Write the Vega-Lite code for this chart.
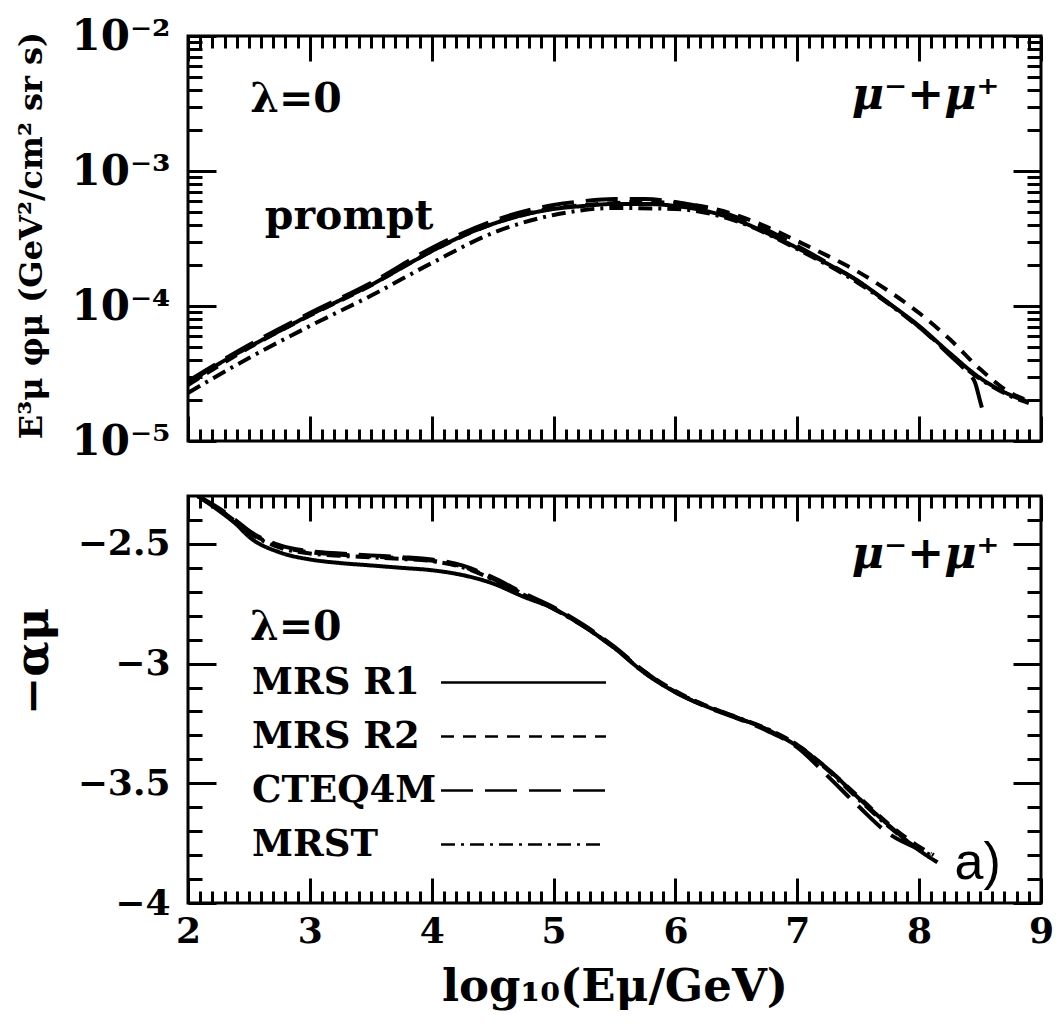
{
  "$schema": "https://vega.github.io/schema/vega-lite/v6.json",
  "padding": {"left": 8, "top": 13, "right": 5, "bottom": 5},
  "background": "white",
  "datasets": {
    "top": [
      {"s":"MRS R1","x":2.0,"y":2.69e-5},{"s":"MRS R1","x":2.25,"y":3.72e-5},{"s":"MRS R1","x":2.5,"y":4.97e-5},{"s":"MRS R1","x":2.75,"y":6.53e-5},{"s":"MRS R1","x":3.0,"y":8.58e-5},{"s":"MRS R1","x":3.25,"y":1.107e-4},{"s":"MRS R1","x":3.5,"y":1.43e-4},{"s":"MRS R1","x":3.75,"y":1.91e-4},{"s":"MRS R1","x":4.0,"y":2.55e-4},{"s":"MRS R1","x":4.25,"y":3.30e-4},{"s":"MRS R1","x":4.5,"y":4.05e-4},{"s":"MRS R1","x":4.75,"y":4.72e-4},{"s":"MRS R1","x":5.0,"y":5.23e-4},{"s":"MRS R1","x":5.25,"y":5.51e-4},{"s":"MRS R1","x":5.5,"y":5.70e-4},{"s":"MRS R1","x":5.75,"y":5.70e-4},{"s":"MRS R1","x":6.0,"y":5.51e-4},{"s":"MRS R1","x":6.25,"y":5.06e-4},{"s":"MRS R1","x":6.5,"y":4.34e-4},{"s":"MRS R1","x":6.75,"y":3.47e-4},{"s":"MRS R1","x":7.0,"y":2.69e-4},{"s":"MRS R1","x":7.25,"y":2.05e-4},{"s":"MRS R1","x":7.5,"y":1.53e-4},{"s":"MRS R1","x":7.75,"y":1.05e-4},{"s":"MRS R1","x":8.0,"y":7.11e-5},{"s":"MRS R1","x":8.25,"y":4.49e-5},{"s":"MRS R1","x":8.5,"y":2.93e-5},{"s":"MRS R1","x":8.75,"y":2.19e-5},{"s":"MRS R1","x":8.9,"y":1.95e-5},
      {"s":"MRS R2","x":2.0,"y":2.6e-5},{"s":"MRS R2","x":2.5,"y":4.9e-5},{"s":"MRS R2","x":3.0,"y":8.5e-5},{"s":"MRS R2","x":3.5,"y":1.42e-4},{"s":"MRS R2","x":4.0,"y":2.55e-4},{"s":"MRS R2","x":4.5,"y":4.05e-4},{"s":"MRS R2","x":5.0,"y":5.3e-4},{"s":"MRS R2","x":5.25,"y":5.6e-4},{"s":"MRS R2","x":5.5,"y":5.79e-4},{"s":"MRS R2","x":5.75,"y":5.89e-4},{"s":"MRS R2","x":6.0,"y":5.79e-4},{"s":"MRS R2","x":6.25,"y":5.41e-4},{"s":"MRS R2","x":6.5,"y":4.72e-4},{"s":"MRS R2","x":6.75,"y":3.85e-4},{"s":"MRS R2","x":7.0,"y":3.03e-4},{"s":"MRS R2","x":7.25,"y":2.35e-4},{"s":"MRS R2","x":7.5,"y":1.79e-4},{"s":"MRS R2","x":7.75,"y":1.29e-4},{"s":"MRS R2","x":8.0,"y":8.87e-5},{"s":"MRS R2","x":8.25,"y":5.69e-5},{"s":"MRS R2","x":8.5,"y":3.41e-5},{"s":"MRS R2","x":8.75,"y":2.27e-5},{"s":"MRS R2","x":8.9,"y":1.98e-5},
      {"s":"CTEQ4M","x":2.0,"y":2.78e-5},{"s":"CTEQ4M","x":2.5,"y":5.14e-5},{"s":"CTEQ4M","x":3.0,"y":8.87e-5},{"s":"CTEQ4M","x":3.5,"y":1.48e-4},{"s":"CTEQ4M","x":4.0,"y":2.69e-4},{"s":"CTEQ4M","x":4.5,"y":4.26e-4},{"s":"CTEQ4M","x":5.0,"y":5.6e-4},{"s":"CTEQ4M","x":5.25,"y":5.99e-4},{"s":"CTEQ4M","x":5.5,"y":6.2e-4},{"s":"CTEQ4M","x":5.75,"y":6.2e-4},{"s":"CTEQ4M","x":6.0,"y":5.89e-4},{"s":"CTEQ4M","x":6.25,"y":5.32e-4},{"s":"CTEQ4M","x":6.5,"y":4.56e-4},{"s":"CTEQ4M","x":6.75,"y":3.66e-4},{"s":"CTEQ4M","x":7.0,"y":2.78e-4},{"s":"CTEQ4M","x":7.25,"y":2.08e-4},{"s":"CTEQ4M","x":7.5,"y":1.53e-4},{"s":"CTEQ4M","x":7.75,"y":1.05e-4},{"s":"CTEQ4M","x":8.0,"y":6.99e-5},{"s":"CTEQ4M","x":8.25,"y":4.34e-5},{"s":"CTEQ4M","x":8.4,"y":3.19e-5},{"s":"CTEQ4M","x":8.46,"y":2.69e-5},{"s":"CTEQ4M","x":8.5,"y":1.98e-5},{"s":"CTEQ4M","x":8.54,"y":1.46e-5},
      {"s":"MRST","x":2.0,"y":2.27e-5},{"s":"MRST","x":2.5,"y":4.12e-5},{"s":"MRST","x":3.0,"y":7.11e-5},{"s":"MRST","x":3.5,"y":1.19e-4},{"s":"MRST","x":4.0,"y":2.08e-4},{"s":"MRST","x":4.5,"y":3.47e-4},{"s":"MRST","x":5.0,"y":4.72e-4},{"s":"MRST","x":5.5,"y":5.32e-4},{"s":"MRST","x":6.0,"y":5.23e-4},{"s":"MRST","x":6.5,"y":4.26e-4},{"s":"MRST","x":7.0,"y":2.64e-4},{"s":"MRST","x":7.5,"y":1.48e-4},{"s":"MRST","x":8.0,"y":6.99e-5},{"s":"MRST","x":8.5,"y":2.88e-5},{"s":"MRST","x":8.75,"y":2.15e-5},{"s":"MRST","x":8.9,"y":1.91e-5}
    ],
    "bot": [
      {"s":"MRS R1","x":2.08,"y":-2.30},{"s":"MRS R1","x":2.25,"y":-2.36},{"s":"MRS R1","x":2.4,"y":-2.42},{"s":"MRS R1","x":2.5,"y":-2.47},{"s":"MRS R1","x":2.75,"y":-2.535},{"s":"MRS R1","x":3.0,"y":-2.565},{"s":"MRS R1","x":3.25,"y":-2.58},{"s":"MRS R1","x":3.5,"y":-2.59},{"s":"MRS R1","x":3.75,"y":-2.6},{"s":"MRS R1","x":4.0,"y":-2.61},{"s":"MRS R1","x":4.25,"y":-2.63},{"s":"MRS R1","x":4.5,"y":-2.665},{"s":"MRS R1","x":4.75,"y":-2.72},{"s":"MRS R1","x":5.0,"y":-2.77},{"s":"MRS R1","x":5.25,"y":-2.845},{"s":"MRS R1","x":5.5,"y":-2.935},{"s":"MRS R1","x":5.75,"y":-3.04},{"s":"MRS R1","x":6.0,"y":-3.12},{"s":"MRS R1","x":6.25,"y":-3.178},{"s":"MRS R1","x":6.5,"y":-3.225},{"s":"MRS R1","x":6.75,"y":-3.275},{"s":"MRS R1","x":7.0,"y":-3.345},{"s":"MRS R1","x":7.25,"y":-3.44},{"s":"MRS R1","x":7.5,"y":-3.56},{"s":"MRS R1","x":7.75,"y":-3.675},{"s":"MRS R1","x":8.0,"y":-3.78},{"s":"MRS R1","x":8.15,"y":-3.83},
      {"s":"MRS R2","x":2.08,"y":-2.30},{"s":"MRS R2","x":2.25,"y":-2.355},{"s":"MRS R2","x":2.4,"y":-2.41},{"s":"MRS R2","x":2.5,"y":-2.45},{"s":"MRS R2","x":2.75,"y":-2.51},{"s":"MRS R2","x":3.0,"y":-2.535},{"s":"MRS R2","x":3.25,"y":-2.545},{"s":"MRS R2","x":3.5,"y":-2.552},{"s":"MRS R2","x":3.75,"y":-2.56},{"s":"MRS R2","x":4.0,"y":-2.57},{"s":"MRS R2","x":4.25,"y":-2.595},{"s":"MRS R2","x":4.5,"y":-2.645},{"s":"MRS R2","x":4.75,"y":-2.71},{"s":"MRS R2","x":5.0,"y":-2.77},{"s":"MRS R2","x":5.25,"y":-2.845},{"s":"MRS R2","x":5.5,"y":-2.935},{"s":"MRS R2","x":5.75,"y":-3.035},{"s":"MRS R2","x":6.0,"y":-3.115},{"s":"MRS R2","x":6.25,"y":-3.175},{"s":"MRS R2","x":6.5,"y":-3.225},{"s":"MRS R2","x":6.75,"y":-3.275},{"s":"MRS R2","x":7.0,"y":-3.34},{"s":"MRS R2","x":7.25,"y":-3.44},{"s":"MRS R2","x":7.5,"y":-3.555},{"s":"MRS R2","x":7.75,"y":-3.67},{"s":"MRS R2","x":8.0,"y":-3.765},{"s":"MRS R2","x":8.12,"y":-3.8},
      {"s":"CTEQ4M","x":2.08,"y":-2.30},{"s":"CTEQ4M","x":2.25,"y":-2.35},{"s":"CTEQ4M","x":2.4,"y":-2.405},{"s":"CTEQ4M","x":2.5,"y":-2.445},{"s":"CTEQ4M","x":2.75,"y":-2.505},{"s":"CTEQ4M","x":3.0,"y":-2.53},{"s":"CTEQ4M","x":3.25,"y":-2.54},{"s":"CTEQ4M","x":3.5,"y":-2.548},{"s":"CTEQ4M","x":3.75,"y":-2.555},{"s":"CTEQ4M","x":4.0,"y":-2.565},{"s":"CTEQ4M","x":4.25,"y":-2.59},{"s":"CTEQ4M","x":4.5,"y":-2.64},{"s":"CTEQ4M","x":4.75,"y":-2.705},{"s":"CTEQ4M","x":5.0,"y":-2.765},{"s":"CTEQ4M","x":5.25,"y":-2.84},{"s":"CTEQ4M","x":5.5,"y":-2.93},{"s":"CTEQ4M","x":5.75,"y":-3.035},{"s":"CTEQ4M","x":6.0,"y":-3.12},{"s":"CTEQ4M","x":6.25,"y":-3.18},{"s":"CTEQ4M","x":6.5,"y":-3.228},{"s":"CTEQ4M","x":6.75,"y":-3.28},{"s":"CTEQ4M","x":7.0,"y":-3.35},{"s":"CTEQ4M","x":7.25,"y":-3.47},{"s":"CTEQ4M","x":7.5,"y":-3.595},{"s":"CTEQ4M","x":7.75,"y":-3.71},{"s":"CTEQ4M","x":8.0,"y":-3.775},{"s":"CTEQ4M","x":8.1,"y":-3.795},
      {"s":"MRST","x":2.08,"y":-2.30},{"s":"MRST","x":2.25,"y":-2.355},{"s":"MRST","x":2.4,"y":-2.41},{"s":"MRST","x":2.5,"y":-2.452},{"s":"MRST","x":2.75,"y":-2.515},{"s":"MRST","x":3.0,"y":-2.54},{"s":"MRST","x":3.25,"y":-2.55},{"s":"MRST","x":3.5,"y":-2.556},{"s":"MRST","x":3.75,"y":-2.563},{"s":"MRST","x":4.0,"y":-2.572},{"s":"MRST","x":4.25,"y":-2.597},{"s":"MRST","x":4.5,"y":-2.648},{"s":"MRST","x":4.75,"y":-2.712},{"s":"MRST","x":5.0,"y":-2.772},{"s":"MRST","x":5.25,"y":-2.845},{"s":"MRST","x":5.5,"y":-2.935},{"s":"MRST","x":5.75,"y":-3.04},{"s":"MRST","x":6.0,"y":-3.118},{"s":"MRST","x":6.25,"y":-3.176},{"s":"MRST","x":6.5,"y":-3.223},{"s":"MRST","x":6.75,"y":-3.272},{"s":"MRST","x":7.0,"y":-3.34},{"s":"MRST","x":7.25,"y":-3.445},{"s":"MRST","x":7.5,"y":-3.565},{"s":"MRST","x":7.75,"y":-3.68},{"s":"MRST","x":8.0,"y":-3.775},{"s":"MRST","x":8.12,"y":-3.805}
    ]
  },
  "vconcat": [
    {
      "width": 853,
      "height": 405,
      "layer": [
        {
          "data": {"name": "top"},
          "mark": {"type": "line", "stroke": "black", "strokeWidth": 4, "clip": true, "interpolate": "monotone"},
          "encoding": {
            "x": {"field": "x", "type": "quantitative", "scale": {"domain": [2, 9], "nice": false, "zero": false},
              "axis": {"orient": "bottom", "values": [2,3,4,5,6,7,8,9], "tickSize": -25, "labels": false, "title": null}},
            "y": {"field": "y", "type": "quantitative", "scale": {"type": "log", "domain": [1e-5, 1e-2], "nice": false},
              "axis": {"orient": "left", "values": [1e-5, 1e-4, 1e-3, 1e-2], "tickSize": -28, "labelPadding": 46, "labelFontSize": 42,
                "labelExpr": "datum.value >= 0.009 ? '10⁻²' : datum.value >= 0.0009 ? '10⁻³' : datum.value >= 0.00009 ? '10⁻⁴' : '10⁻⁵'",
                "title": "E³μ φμ (GeV²/cm² sr s)", "titleX": -157, "titleY": 199, "titleAngle": -90, "titleAlign": "center", "titleBaseline": "middle", "titleFontSize": 32}},
            "strokeDash": {"field": "s", "type": "nominal", "legend": null,
              "scale": {"domain": ["MRS R1", "MRS R2", "CTEQ4M", "MRST"], "range": [[1, 0], [13, 9], [32, 12], [14, 6, 3, 6]]}}
          }
        },
        {
          "data": {"name": "top"},
          "mark": {"type": "point", "opacity": 0},
          "encoding": {
            "x": {"field": "x", "type": "quantitative", "axis": {"orient": "bottom", "values": [2.1,2.2,2.3,2.4,2.5,2.6,2.7,2.8,2.9,3.1,3.2,3.3,3.4,3.5,3.6,3.7,3.8,3.9,4.1,4.2,4.3,4.4,4.5,4.6,4.7,4.8,4.9,5.1,5.2,5.3,5.4,5.5,5.6,5.7,5.8,5.9,6.1,6.2,6.3,6.4,6.5,6.6,6.7,6.8,6.9,7.1,7.2,7.3,7.4,7.5,7.6,7.7,7.8,7.9,8.1,8.2,8.3,8.4,8.5,8.6,8.7,8.8,8.9], "tickSize": -12, "labels": false, "title": null}},
            "y": {"field": "y", "type": "quantitative", "axis": {"orient": "left", "values": [2e-5,3e-5,4e-5,5e-5,6e-5,7e-5,8e-5,9e-5,2e-4,3e-4,4e-4,5e-4,6e-4,7e-4,8e-4,9e-4,2e-3,3e-3,4e-3,5e-3,6e-3,7e-3,8e-3,9e-3], "tickSize": -14, "labels": false, "title": null}}
          }
        },
        {
          "data": {"name": "top"},
          "mark": {"type": "point", "opacity": 0},
          "encoding": {
            "x": {"field": "x", "type": "quantitative", "axis": {"orient": "top", "values": [2,3,4,5,6,7,8,9], "tickSize": -25, "labels": false, "title": null}},
            "y": {"field": "y", "type": "quantitative", "axis": {"orient": "right", "values": [1e-5, 1e-4, 1e-3, 1e-2], "tickSize": -28, "labels": false, "title": null}}
          }
        },
        {
          "data": {"name": "top"},
          "mark": {"type": "point", "opacity": 0},
          "encoding": {
            "x": {"field": "x", "type": "quantitative", "axis": {"orient": "top", "values": [2.1,2.2,2.3,2.4,2.5,2.6,2.7,2.8,2.9,3.1,3.2,3.3,3.4,3.5,3.6,3.7,3.8,3.9,4.1,4.2,4.3,4.4,4.5,4.6,4.7,4.8,4.9,5.1,5.2,5.3,5.4,5.5,5.6,5.7,5.8,5.9,6.1,6.2,6.3,6.4,6.5,6.6,6.7,6.8,6.9,7.1,7.2,7.3,7.4,7.5,7.6,7.7,7.8,7.9,8.1,8.2,8.3,8.4,8.5,8.6,8.7,8.8,8.9], "tickSize": -12, "labels": false, "title": null}},
            "y": {"field": "y", "type": "quantitative", "axis": {"orient": "right", "values": [2e-5,3e-5,4e-5,5e-5,6e-5,7e-5,8e-5,9e-5,2e-4,3e-4,4e-4,5e-4,6e-4,7e-4,8e-4,9e-4,2e-3,3e-3,4e-3,5e-3,6e-3,7e-3,8e-3,9e-3], "tickSize": -14, "labels": false, "title": null}}
          }
        },
        {
          "data": {"values": [{"t": "λ=0", "x": 2.51, "y": 0.00275}, {"t": "prompt", "x": 2.63, "y": 0.000372}]},
          "mark": {"type": "text", "align": "left", "baseline": "alphabetic", "font": "DejaVu Serif", "fontWeight": "bold", "fontSize": 41, "color": "black"},
          "encoding": {
            "x": {"field": "x", "type": "quantitative", "axis": null},
            "y": {"field": "y", "type": "quantitative", "axis": null},
            "text": {"field": "t"}
          }
        },
        {
          "data": {"values": [{"t": "μ⁻+μ⁺", "x": 8.66, "y": 0.00287}]},
          "mark": {"type": "text", "align": "right", "baseline": "alphabetic", "font": "DejaVu Serif", "fontWeight": "bold", "fontStyle": "italic", "fontSize": 44, "color": "black"},
          "encoding": {
            "x": {"field": "x", "type": "quantitative", "axis": null},
            "y": {"field": "y", "type": "quantitative", "axis": null},
            "text": {"field": "t"}
          }
        }
      ],
      "resolve": {"axis": {"x": "independent", "y": "independent"}}
    },
    {
      "width": 853,
      "height": 407,
      "layer": [
        {
          "data": {"name": "bot"},
          "mark": {"type": "line", "stroke": "black", "strokeWidth": 4, "clip": true, "interpolate": "monotone"},
          "encoding": {
            "x": {"field": "x", "type": "quantitative", "scale": {"domain": [2, 9], "nice": false, "zero": false},
              "axis": {"orient": "bottom", "values": [2,3,4,5,6,7,8,9], "tickSize": -25, "labelPadding": 36, "labelExpr": "format(datum.value, 'd')",
                "title": "log₁₀(Eμ/GeV)", "titleFontSize": 45, "titleY": 83, "titleBaseline": "middle"}},
            "y": {"field": "y", "type": "quantitative", "scale": {"domain": [-4, -2.3], "nice": false, "zero": false},
              "axis": {"orient": "left", "values": [-4, -3.5, -3, -2.5], "tickSize": -28, "labelPadding": 46, "labelExpr": "format(datum.value, '')",
                "title": "−αμ", "titleX": -155, "titleY": 165, "titleAngle": -90, "titleAlign": "center", "titleBaseline": "middle", "titleFontSize": 46}},
            "strokeDash": {"field": "s", "type": "nominal",
              "scale": {"domain": ["MRS R1", "MRS R2", "CTEQ4M", "MRST"], "range": [[1, 0], [13, 9], [32, 12], [14, 6, 3, 6]]},
              "legend": {"orient": "none", "legendX": 62, "legendY": 112, "title": "λ=0", "titleFont": "DejaVu Serif", "titleFontWeight": "bold", "titleFontSize": 41, "titleColor": "black", "titlePadding": 15,
                "symbolType": "M-5,0H5", "symbolSize": 1089, "symbolStrokeWidth": 2.5, "symbolStrokeColor": "black", "symbolFillColor": "transparent", "symbolOffset": 255,
                "labelOffset": -290, "labelAlign": "left", "labelFont": "DejaVu Serif", "labelFontWeight": "bold", "labelFontSize": 37, "labelColor": "black", "labelLimit": 400,
                "rowPadding": 16, "padding": 0}}
          }
        },
        {
          "data": {"name": "bot"},
          "mark": {"type": "point", "opacity": 0},
          "encoding": {
            "x": {"field": "x", "type": "quantitative", "axis": {"orient": "bottom", "values": [2.1,2.2,2.3,2.4,2.5,2.6,2.7,2.8,2.9,3.1,3.2,3.3,3.4,3.5,3.6,3.7,3.8,3.9,4.1,4.2,4.3,4.4,4.5,4.6,4.7,4.8,4.9,5.1,5.2,5.3,5.4,5.5,5.6,5.7,5.8,5.9,6.1,6.2,6.3,6.4,6.5,6.6,6.7,6.8,6.9,7.1,7.2,7.3,7.4,7.5,7.6,7.7,7.8,7.9,8.1,8.2,8.3,8.4,8.5,8.6,8.7,8.8,8.9], "tickSize": -12, "labels": false, "title": null}},
            "y": {"field": "y", "type": "quantitative", "axis": {"orient": "left", "values": [-3.9,-3.8,-3.7,-3.6,-3.4,-3.3,-3.2,-3.1,-2.9,-2.8,-2.7,-2.6,-2.4], "tickSize": -14, "labels": false, "title": null}}
          }
        },
        {
          "data": {"name": "bot"},
          "mark": {"type": "point", "opacity": 0},
          "encoding": {
            "x": {"field": "x", "type": "quantitative", "axis": {"orient": "top", "values": [2,3,4,5,6,7,8,9], "tickSize": -25, "labels": false, "title": null}},
            "y": {"field": "y", "type": "quantitative", "axis": {"orient": "right", "values": [-4, -3.5, -3, -2.5], "tickSize": -28, "labels": false, "title": null}}
          }
        },
        {
          "data": {"name": "bot"},
          "mark": {"type": "point", "opacity": 0},
          "encoding": {
            "x": {"field": "x", "type": "quantitative", "axis": {"orient": "top", "values": [2.1,2.2,2.3,2.4,2.5,2.6,2.7,2.8,2.9,3.1,3.2,3.3,3.4,3.5,3.6,3.7,3.8,3.9,4.1,4.2,4.3,4.4,4.5,4.6,4.7,4.8,4.9,5.1,5.2,5.3,5.4,5.5,5.6,5.7,5.8,5.9,6.1,6.2,6.3,6.4,6.5,6.6,6.7,6.8,6.9,7.1,7.2,7.3,7.4,7.5,7.6,7.7,7.8,7.9,8.1,8.2,8.3,8.4,8.5,8.6,8.7,8.8,8.9], "tickSize": -12, "labels": false, "title": null}},
            "y": {"field": "y", "type": "quantitative", "axis": {"orient": "right", "values": [-3.9,-3.8,-3.7,-3.6,-3.4,-3.3,-3.2,-3.1,-2.9,-2.8,-2.7,-2.6,-2.4], "tickSize": -14, "labels": false, "title": null}}
          }
        },
        {
          "data": {"values": [{"t": "μ⁻+μ⁺", "x": 8.66, "y": -2.6}]},
          "mark": {"type": "text", "align": "right", "baseline": "alphabetic", "font": "DejaVu Serif", "fontWeight": "bold", "fontStyle": "italic", "fontSize": 44, "color": "black"},
          "encoding": {
            "x": {"field": "x", "type": "quantitative", "axis": null},
            "y": {"field": "y", "type": "quantitative", "axis": null},
            "text": {"field": "t"}
          }
        },
        {
          "data": {"values": [{"t": "a)", "x": 8.29, "y": -3.9}]},
          "mark": {"type": "text", "align": "left", "baseline": "alphabetic", "font": "Liberation Sans", "fontSize": 52, "color": "black"},
          "encoding": {
            "x": {"field": "x", "type": "quantitative", "axis": null},
            "y": {"field": "y", "type": "quantitative", "axis": null},
            "text": {"field": "t"}
          }
        }
      ],
      "resolve": {"axis": {"x": "independent", "y": "independent"}}
    }
  ],
  "spacing": 55,
  "bounds": "flush",
  "resolve": {"scale": {"strokeDash": "independent"}},
  "config": {
    "font": "DejaVu Serif",
    "view": {"stroke": "black", "strokeWidth": 3},
    "axis": {"grid": false, "domain": false, "tickColor": "black", "tickWidth": 3, "tickCap": "butt",
      "labelColor": "black", "titleColor": "black", "labelFont": "DejaVu Serif", "labelFontWeight": "bold", "labelFontSize": 36,
      "titleFont": "DejaVu Serif", "titleFontWeight": "bold", "labelFlush": false, "labelOverlap": false, "labelBound": false}
  }
}
